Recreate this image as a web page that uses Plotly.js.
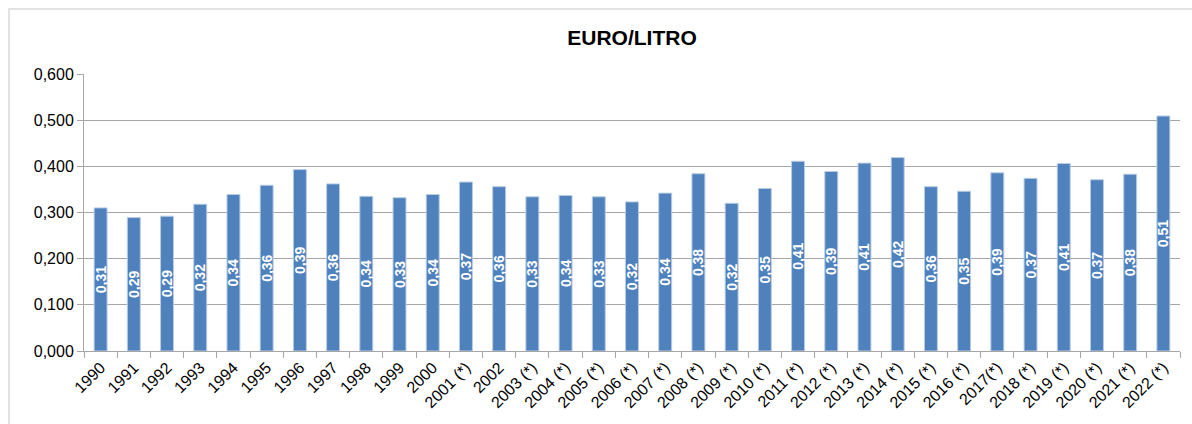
<!DOCTYPE html>
<html>
<head>
<meta charset="utf-8">
<script src="https://cdn.plot.ly/plotly-3.0.1.min.js"></script>
<style>
html,body{margin:0;padding:0;background:#fff;}
#chart{width:1192px;height:424px;}
</style>
</head>
<body>
<div id="chart"></div>
<script>
const categories = ["1990","1991","1992","1993","1994","1995","1996","1997","1998","1999","2000",
  "2001 (*)","2002","2003 (*)","2004 (*)","2005 (*)","2006 (*)","2007 (*)","2008 (*)","2009 (*)","2010 (*)",
  "2011 (*)","2012 (*)","2013 (*)","2014 (*)","2015 (*)","2016 (*)","2017(*)","2018 (*)","2019 (*)","2020 (*)",
  "2021 (*)","2022 (*)"];
const values = [0.310,0.289,0.292,0.318,0.339,0.359,0.393,0.362,0.335,0.332,0.339,
  0.366,0.356,0.334,0.337,0.334,0.323,0.342,0.384,0.320,0.352,
  0.411,0.389,0.407,0.419,0.356,0.346,0.386,0.374,0.406,0.371,
  0.383,0.509];
const yTicks = [0,0.1,0.2,0.3,0.4,0.5,0.6];
const chartTitle = "EURO/LITRO";

const trace = {
  type: "bar",
  x: categories,
  y: values,
  marker: {color: "#4F81BD", line: {color: "#b9cde5", width: 1}},
  texttemplate: "%{y:.2f}",
  textposition: "inside",
  insidetextanchor: "middle",
  textangle: -90,
  constraintext: "none",
  insidetextfont: {family: "Liberation Sans, Arial, sans-serif", size: 14, color: "#ffffff", weight: "bold"},
  hoverinfo: "x+y"
};

const layout = {
  width: 1192, height: 424,
  margin: {l: 84, r: 12, t: 74, b: 73},
  paper_bgcolor: "#ffffff", plot_bgcolor: "#ffffff",
  separators: ",.",
  showlegend: false,
  bargap: 0.61,
  font: {family: "Liberation Sans, Arial, sans-serif", size: 16, color: "#000"},
  title: {text: "<b>" + chartTitle + "</b>", x: 0.5, xref: "paper", y: 0.912, yanchor: "middle",
          font: {family: "Liberation Sans, Arial, sans-serif", size: 21, color: "#000"}},
  xaxis: {
    type: "category",
    tickangle: -45,
    tickson: "boundaries",
    ticks: "outside", ticklen: 6, tickcolor: "#a6a6a6",
    showline: true, linecolor: "#a6a6a6", linewidth: 1,
    showgrid: false,
    tickfont: {family: "Liberation Sans, Arial, sans-serif", size: 16, color: "#000"},
    fixedrange: true
  },
  yaxis: {
    range: [0, 0.6],
    tickvals: yTicks,
    tickformat: ".3f",
    ticks: "outside", ticklen: 6, tickcolor: "#a6a6a6",
    showline: true, linecolor: "#a6a6a6", linewidth: 1,
    showgrid: true, gridcolor: "#a6a6a6", gridwidth: 1,
    zeroline: false,
    tickfont: {family: "Liberation Sans, Arial, sans-serif", size: 16, color: "#000"},
    fixedrange: true
  },
  shapes: [{
    type: "rect", xref: "paper", yref: "paper",
    x0: -0.0684, x1: 1.2, y0: -0.5, y1: 1.2347,
    line: {color: "#d9d9d9", width: 1.5}, fillcolor: "rgba(0,0,0,0)", layer: "below"
  }]
};

Plotly.newPlot("chart", [trace], layout, {displayModeBar: false, staticPlot: true});
</script>
</body>
</html>
